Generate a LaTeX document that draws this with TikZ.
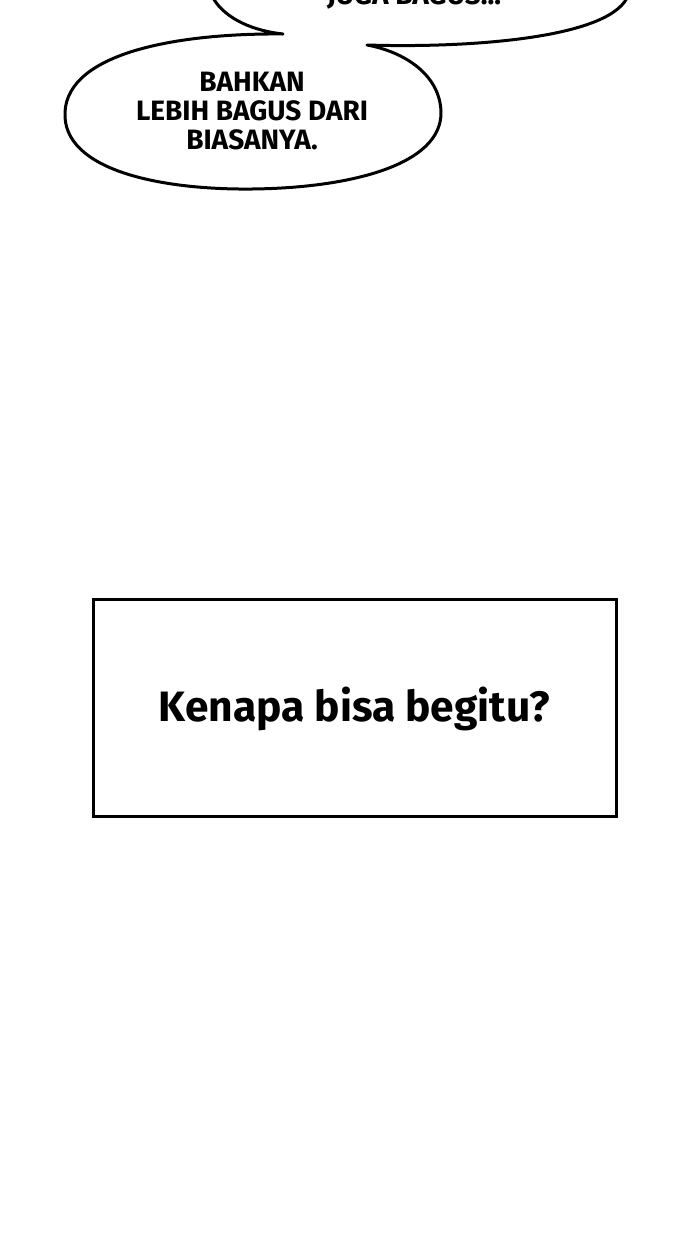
\documentclass[tikz,border=0pt]{standalone}
\usepackage{fontspec}
\setmainfont{Fira Sans}
\usetikzlibrary{calc}
\begin{document}
\begin{tikzpicture}[x=1pt,y=-1pt]
                  \useasboundingbox (0,0) rectangle (690,1240);
                  \clip (0,0) rectangle (690,1240);
                  \tikzset{
                      bubbleline/.style={line width=3pt,line join=round},
                      letters/.style={align=center,font=\bfseries\fontsize{28}{29}\selectfont},
                      boxline/.style={line width=3pt}
                  }

                  % cusps where the two balloons meet
                  \coordinate (CL) at (283,34);
                  \coordinate (CR) at (367,45);

                  % balloons
                  \draw[bubbleline] (213,-2) .. controls (226,20) and (255,31) .. (CL)
                      .. controls (180,33) and (68,52) .. (65,112)
                      .. controls (62,170) and (160,190) .. (252,189)
                      .. controls (350,188) and (442,165) .. (441,112)
                      .. controls (440,75) and (405,52) .. (CR)
                      .. controls (460,48) and (605,40) .. (627,-2);

                  \node[letters] (top) at (414,-3) {JUGA BAGUS...};
                  \node[letters] (low) at (252,111) {BAHKAN\\LEBIH BAGUS DARI\\BIASANYA.};

                  % caption
                  \coordinate (B1) at (93,599);
                  \coordinate (B2) at (616,816);
                  \draw[boxline] (B1) rectangle (B2);
                  \node[font=\bfseries\fontsize{42.5}{46}\selectfont] (cap) at ($(B1)!0.5!(B2)+(0,1)$) {Kenapa bisa begitu?};
              \end{tikzpicture}
\end{document}
